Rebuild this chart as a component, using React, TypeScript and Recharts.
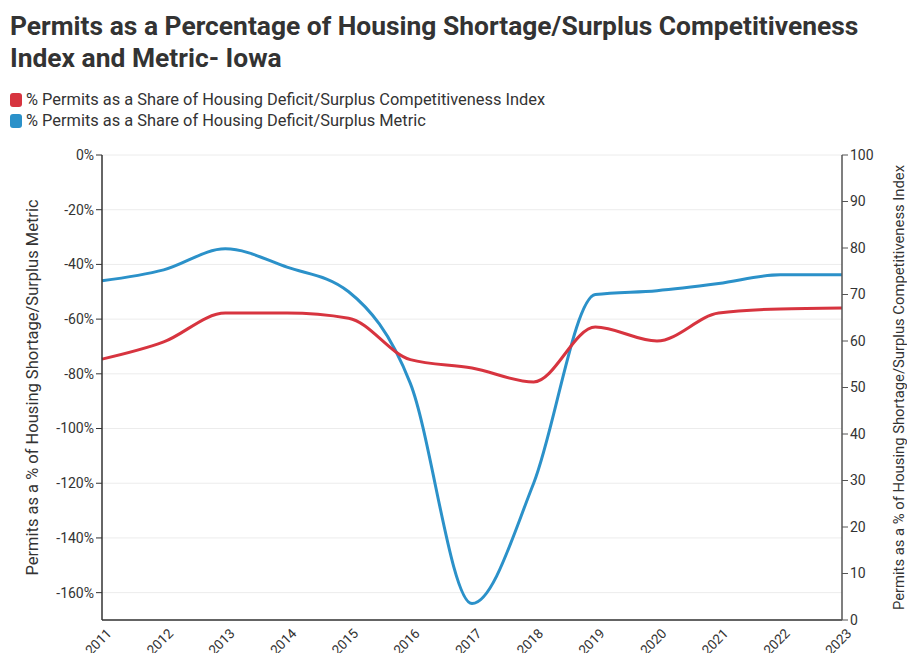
import React from 'react';
import { LineChart, Line, XAxis, YAxis, CartesianGrid, Label } from 'recharts';

const years = ['2011', '2012', '2013', '2014', '2015', '2016', '2017', '2018', '2019', '2020', '2021', '2022', '2023'];
const metricPct = [-46, -42, -34.3, -41, -50, -83.5, -164, -120, -51, -49.6, -47, -43.8, -43.8];
const indexPct = [56.1, 59.8, 66, 66, 64.9, 56, 54.2, 51.2, 63, 60, 66, 66.9, 67.1];
const leftTicks = [0, -20, -40, -60, -80, -100, -120, -140, -160];
const rightTicks = [0, 10, 20, 30, 40, 50, 60, 70, 80, 90, 100];

const data = years.map((year, i) => ({ year, metric: metricPct[i], index: indexPct[i] }));

const RED = '#d7343f';
const BLUE = '#2b91c9';
const FONT = 'Roboto, "Noto Sans", sans-serif';

const XTick = (props: any) => {
  const { x, y, payload } = props;
  return (
    <g transform={`translate(${x + 4},${y})`}>
      <text x={0} y={0} dy={9} textAnchor="end" fill="#333" fontSize={13.5} fontFamily={FONT} transform="rotate(-45)">
        {payload.value}
      </text>
    </g>
  );
};

const LegendRow = ({ color, text }: { color: string; text: string }) => (
  <div style={{ display: 'flex', alignItems: 'center', height: 21 }}>
    <span style={{ width: 12, height: 14, borderRadius: 3, background: color, display: 'inline-block', marginRight: 4 }} />
    <span style={{ fontSize: 16.4, color: '#333' }}>{text}</span>
  </div>
);

const App: React.FC = () => {
  return (
    <div style={{ position: 'absolute', left: 0, top: 0, width: 907, height: 653, background: '#fff', fontFamily: FONT }}>
      <div style={{ position: 'absolute', left: 10, top: 10, fontSize: 26.4, fontWeight: 700, color: '#333', lineHeight: '32px', width: 895 }}>
        Permits as a Percentage of Housing Shortage/Surplus Competitiveness
        <br />
        Index and Metric- Iowa
      </div>
      <div style={{ position: 'absolute', left: 10, top: 89 }}>
        <LegendRow color={RED} text="% Permits as a Share of Housing Deficit/Surplus Competitiveness Index" />
        <LegendRow color={BLUE} text="% Permits as a Share of Housing Deficit/Surplus Metric" />
      </div>
      <div style={{ position: 'absolute', left: 0, top: 0 }}>
        <LineChart width={907} height={653} data={data} margin={{ top: 155, right: 0, bottom: 3, left: 22 }}>
          <CartesianGrid yAxisId="left" vertical={false} stroke="#ececec" />
          <XAxis
            dataKey="year"
            interval={0}
            tickLine={false}
            axisLine={{ stroke: '#333', strokeWidth: 1.5 }}
            tick={<XTick />}
            height={30}
          />
          <YAxis
            yAxisId="left"
            domain={[-170, 0]}
            ticks={leftTicks}
            width={80}
            tickFormatter={(v: number) => `${v}%`}
            tick={{ fill: '#333', fontSize: 14, fontFamily: FONT }}
            axisLine={{ stroke: '#333', strokeWidth: 1.5 }}
            tickLine={{ stroke: '#333' }}
            tickSize={6}
          >
            <Label
              value="Permits as a % of Housing Shortage/Surplus Metric"
              angle={-90}
              position="insideLeft"
              dx={5}
              style={{ textAnchor: 'middle', fill: '#333', fontSize: 16.5, fontFamily: FONT }}
            />
          </YAxis>
          <YAxis
            yAxisId="right"
            orientation="right"
            domain={[0, 100]}
            ticks={rightTicks}
            width={65}
            tick={{ fill: '#333', fontSize: 14, fontFamily: FONT }}
            axisLine={{ stroke: '#555', strokeWidth: 1.5 }}
            tickLine={{ stroke: '#555' }}
            tickSize={6}
          >
            <Label
              value="Permits as a % of Housing Shortage/Surplus Competitiveness Index"
              angle={-90}
              position="insideRight"
              dx={-3}
              style={{ textAnchor: 'middle', fill: '#333', fontSize: 14.8, fontFamily: FONT }}
            />
          </YAxis>
          <Line
            yAxisId="left"
            type="monotone"
            dataKey="metric"
            stroke={BLUE}
            strokeWidth={3}
            dot={false}
            isAnimationActive={false}
          />
          <Line
            yAxisId="right"
            type="monotone"
            dataKey="index"
            stroke={RED}
            strokeWidth={3}
            dot={false}
            isAnimationActive={false}
          />
        </LineChart>
      </div>
    </div>
  );
};

export default App;
